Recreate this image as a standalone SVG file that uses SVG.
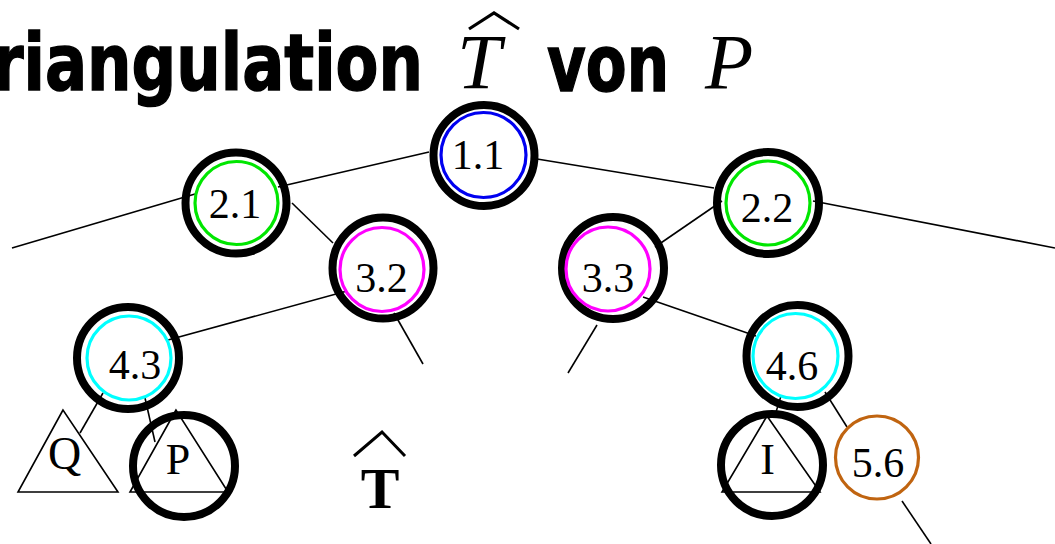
<svg xmlns="http://www.w3.org/2000/svg" width="1055" height="544" viewBox="0 0 1055 544">
<style>
.title{font-family:"DejaVu Sans","Open Sans",sans-serif;font-weight:bold;font-size:78px;fill:#000;stroke:#000;stroke-width:1.5}
.math{font-family:"Liberation Serif","Times New Roman",serif;font-style:italic;font-size:79px;fill:#000}
.outer{fill:none;stroke:#000;stroke-width:8}
.inner{fill:none;stroke-width:3.2}
.lbl{font-family:"Liberation Serif","Times New Roman",serif;font-size:42px;fill:#000;text-anchor:middle}
.tri{fill:none;stroke:#000;stroke-width:1.6;stroke-linejoin:miter}
.edge{stroke:#000;stroke-width:1.6;fill:none}
</style>
<rect width="1055" height="544" fill="#fff"/>
<g id="title">
<text class="title" x="-43" y="90" textLength="466" lengthAdjust="spacingAndGlyphs">Triangulation</text>
<text class="math" x="457" y="88">T</text>
<polyline points="469,29 494,13 519,29" fill="none" stroke="#000" stroke-width="3.2"/>
<text class="title" x="547" y="91" textLength="122" lengthAdjust="spacingAndGlyphs">von</text>
<text class="math" x="705" y="88">P</text>
</g>
<g id="connectors">
<line class="edge" x1="429" y1="152" x2="278" y2="187"/>
<line class="edge" x1="195" y1="194" x2="12" y2="248"/>
<line class="edge" x1="292" y1="203" x2="333" y2="243"/>
<line class="edge" x1="347" y1="291" x2="168" y2="340"/>
<line class="edge" x1="394" y1="313" x2="423" y2="364"/>
<line class="edge" x1="103" y1="393" x2="80" y2="433"/>
<line class="edge" x1="145" y1="398" x2="155" y2="442"/>
<line class="edge" x1="531" y1="158" x2="714" y2="188"/>
<line class="edge" x1="722" y1="201" x2="655" y2="247"/>
<line class="edge" x1="813" y1="201" x2="1055" y2="248"/>
<line class="edge" x1="643" y1="297" x2="756" y2="336"/>
<line class="edge" x1="597" y1="325" x2="568" y2="373"/>
<line class="edge" x1="781" y1="396" x2="776" y2="412"/>
<line class="edge" x1="825" y1="392" x2="847" y2="427"/>
<line class="edge" x1="902" y1="501" x2="931" y2="544"/>
</g>
<g id="n11">
<circle class="outer" cx="484" cy="155.5" r="50.5"/>
<circle class="inner" cx="483.5" cy="155" r="42.5" stroke="#0000f0"/>
<text class="lbl" x="478" y="169">1.1</text>
</g>
<g id="n21">
<circle class="outer" cx="236" cy="203" r="50.5"/>
<circle class="inner" cx="236.5" cy="203" r="41.5" stroke="#00e600"/>
<text class="lbl" x="235" y="218">2.1</text>
</g>
<g id="n22">
<circle class="outer" cx="768" cy="203" r="51"/>
<circle class="inner" cx="768" cy="203" r="42" stroke="#00e600"/>
<text class="lbl" x="767" y="222">2.2</text>
</g>
<g id="n32">
<circle class="outer" cx="383" cy="268" r="50.5"/>
<circle class="inner" cx="382" cy="269.5" r="42" stroke="#ff00ff"/>
<text class="lbl" x="381.5" y="292">3.2</text>
</g>
<g id="n33">
<circle class="outer" cx="613" cy="268" r="51"/>
<circle class="inner" cx="608" cy="269" r="42" stroke="#ff00ff"/>
<text class="lbl" x="608" y="292">3.3</text>
</g>
<g id="n43">
<circle class="outer" cx="128" cy="358" r="51"/>
<circle class="inner" cx="129" cy="358" r="42" stroke="#00ffff"/>
<text class="lbl" x="135" y="379">4.3</text>
</g>
<g id="n46">
<circle class="outer" cx="797.5" cy="356" r="51"/>
<circle class="inner" cx="795.5" cy="356" r="42.5" stroke="#00ffff"/>
<text class="lbl" x="792" y="380">4.6</text>
</g>
<g id="nQ">
<polygon class="tri" points="63,410 18,492 118,492"/>
<text class="lbl" x="64.5" y="469" style="font-size:46px">Q</text>
</g>
<g id="nP">
<polygon class="tri" points="176,410 130,492 228,492"/>
<circle class="outer" cx="184" cy="466" r="51"/>
<text class="lbl" x="178" y="474" style="font-size:44px">P</text>
</g>
<g id="nI">
<polygon class="tri" points="767,416 722,492 820,492"/>
<circle class="outer" cx="772" cy="465" r="51"/>
<text class="lbl" x="767.5" y="474" style="font-size:44px">I</text>
</g>
<g id="n56">
<circle cx="877" cy="457.5" r="41.5" fill="none" stroke="#c06410" stroke-width="3.2"/>
<text class="lbl" x="878" y="477">5.6</text>
</g>
<g id="that">
<polyline points="354,456 382,432 405,456" fill="none" stroke="#000" stroke-width="3"/>
<text x="380" y="508" text-anchor="middle" style="font-family:'Liberation Serif','Times New Roman',serif;font-weight:bold;font-size:58px">T</text>
</g>
</svg>
